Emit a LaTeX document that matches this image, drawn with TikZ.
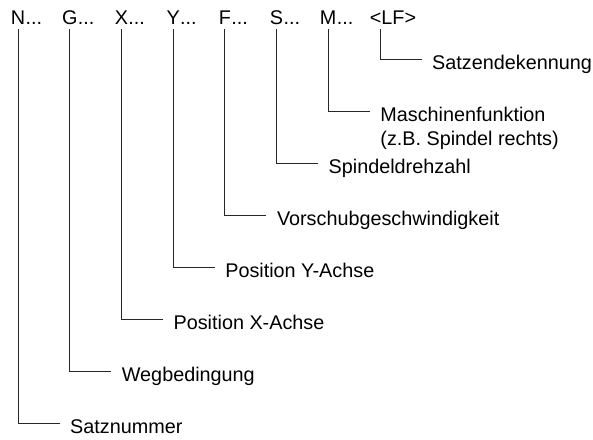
\documentclass[tikz,border=0pt]{standalone}
\usepackage{fontspec}
\setmainfont{Liberation Sans}
\begin{document}
\begin{tikzpicture}[x=1pt,y=-1pt,
  txt/.style={font=\fontsize{19.8}{24}\selectfont},
  code/.style={txt, inner xsep=0pt, inner ysep=4.5pt, anchor=base},
  codex/.style={txt, inner sep=0pt},
  conn/.style={draw=black!85, line width=0.8pt},
  lbl/.style={txt, anchor=west, inner xsep=10.5pt, inner ysep=0pt, text height=20.5pt, text depth=0pt}]
\useasboundingbox (0,0) rectangle (593,439);
% top codes
\foreach \n/\c/\x in {N/N/18, G/G/69.7, X/X/121.4, Y/Y/173.1, F/F/224.8, S/S/276.5, M/M/328.2}{
  \node[code] (c\n) at (\x,24.5) {\c};
  \node[codex, anchor=base west] (d\n) at (c\n.base east) {...};
}
\node[code] (cLF) at (393,24.5) {<LF>};
\coordinate (tLF) at ([xshift=-13pt]cLF.south);
% labels
\node[lbl] (lLF) at (421.5,59) {Satzendekennung};
\node[lbl] (lM) at (369.7,111) {Maschinenfunktion};
\node[txt, inner sep=0pt, anchor=base west] (lM2) at ([xshift=10.5pt,yshift=-24pt]lM.base west) {(z.B. Spindel rechts)};
\node[lbl] (lS) at (318,163) {Spindeldrehzahl};
\node[lbl] (lF) at (266.3,215) {Vorschubgeschwindigkeit};
\node[lbl] (lY) at (214.6,267) {Position Y-Achse};
\node[lbl] (lX) at (162.9,319) {Position X-Achse};
\node[lbl] (lG) at (111.2,371) {Wegbedingung};
\node[lbl] (lN) at (59.5,423) {Satznummer};
% connectors
\draw[conn] (tLF) |- (lLF.west);
\foreach \n in {M,S,F,Y,X,G,N}{
  \draw[conn] (c\n.south) |- (l\n.west);
}
\end{tikzpicture}
\end{document}
